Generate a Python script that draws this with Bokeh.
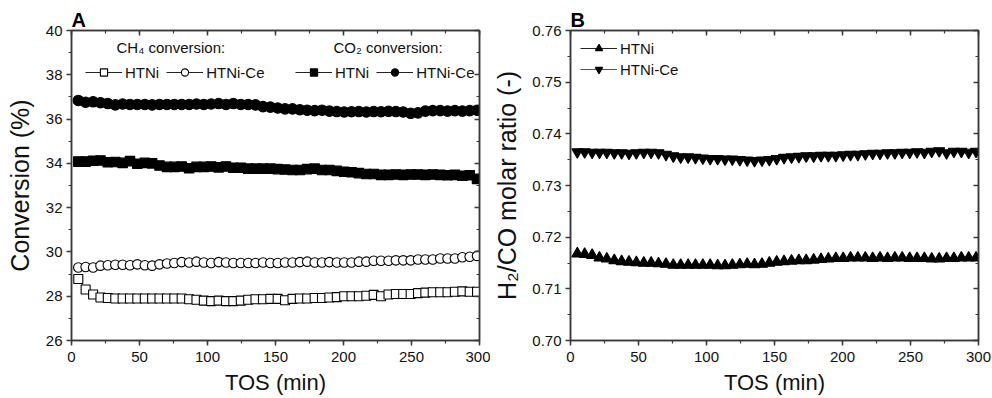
from bokeh.plotting import figure
from bokeh.layouts import row
from bokeh.models import (Legend, LegendItem, Label, LinearAxis, Range1d,
                          SingleIntervalTicker, NumeralTickFormatter, CustomJSTickFormatter)
from bokeh.embed import file_html
from bokeh.resources import INLINE

# ---------------- data ----------------
tos = [5.0, 10.4, 15.9, 21.3, 26.7, 32.2, 37.6, 43.0, 48.4, 53.9, 59.3,
       64.7, 70.2, 75.6, 81.0, 86.5, 91.9, 97.3, 102.7, 108.2, 113.6, 119.0,
       124.5, 129.9, 135.3, 140.8, 146.2, 151.6, 157.0, 162.5, 167.9, 173.3, 178.8,
       184.2, 189.6, 195.1, 200.5, 205.9, 211.3, 216.8, 222.2, 227.6, 233.1, 238.5,
       243.9, 249.4, 254.8, 260.2, 265.6, 271.1, 276.5, 281.9, 287.4, 292.8, 298.2]

co2_htnice = [36.84, 36.76, 36.78, 36.74, 36.70, 36.64, 36.68, 36.66, 36.66, 36.66, 36.64,
              36.66, 36.66, 36.66, 36.66, 36.66, 36.68, 36.66, 36.68, 36.70, 36.66, 36.70,
              36.66, 36.66, 36.64, 36.56, 36.54, 36.50, 36.46, 36.46, 36.42, 36.40, 36.38,
              36.40, 36.36, 36.34, 36.32, 36.33, 36.34, 36.32, 36.34, 36.33, 36.35, 36.34,
              36.32, 36.26, 36.28, 36.36, 36.38, 36.38, 36.36, 36.38, 36.36, 36.38, 36.40]

co2_htni = [34.08, 34.08, 34.12, 34.13, 34.05, 34.06, 34.02, 34.10, 33.98, 34.02, 34.00,
            33.90, 33.84, 33.84, 33.86, 33.78, 33.84, 33.84, 33.86, 33.82, 33.86, 33.80,
            33.80, 33.76, 33.76, 33.76, 33.76, 33.74, 33.72, 33.70, 33.70, 33.74, 33.76,
            33.70, 33.70, 33.66, 33.62, 33.60, 33.56, 33.52, 33.52, 33.48, 33.48, 33.50,
            33.48, 33.50, 33.50, 33.48, 33.50, 33.48, 33.46, 33.48, 33.44, 33.46, 33.30]

ch4_htnice = [29.30, 29.32, 29.30, 29.38, 29.40, 29.42, 29.42, 29.40, 29.44, 29.40, 29.38,
              29.44, 29.48, 29.50, 29.54, 29.52, 29.56, 29.52, 29.50, 29.54, 29.52, 29.50,
              29.50, 29.50, 29.50, 29.52, 29.50, 29.50, 29.52, 29.52, 29.54, 29.56, 29.52,
              29.52, 29.54, 29.52, 29.52, 29.52, 29.56, 29.56, 29.60, 29.60, 29.60, 29.62,
              29.62, 29.62, 29.66, 29.66, 29.66, 29.70, 29.70, 29.70, 29.76, 29.78, 29.82]

ch4_htni = [28.78, 28.30, 28.08, 27.94, 27.92, 27.90, 27.90, 27.90, 27.90, 27.90, 27.90,
            27.90, 27.90, 27.90, 27.90, 27.86, 27.84, 27.80, 27.78, 27.80, 27.78, 27.78,
            27.80, 27.84, 27.86, 27.86, 27.88, 27.88, 27.82, 27.88, 27.90, 27.90, 27.92,
            27.92, 27.94, 27.96, 28.00, 28.00, 28.00, 28.02, 28.06, 28.00, 28.08, 28.10,
            28.10, 28.10, 28.14, 28.16, 28.18, 28.18, 28.18, 28.20, 28.22, 28.20, 28.20]

ratio_htni = [0.7168, 0.7167, 0.7165, 0.7160, 0.7158, 0.7155, 0.7153, 0.7152, 0.7151, 0.7150, 0.7150,
              0.7149, 0.7148, 0.7146, 0.7146, 0.7146, 0.7146, 0.7146, 0.7146, 0.7145, 0.7145, 0.7146,
              0.7147, 0.7148, 0.7147, 0.7148, 0.7150, 0.7152, 0.7153, 0.7154, 0.7155, 0.7155, 0.7156,
              0.7157, 0.7158, 0.7159, 0.7159, 0.7160, 0.7160, 0.7160, 0.7159, 0.7160, 0.7159, 0.7160,
              0.7160, 0.7159, 0.7159, 0.7159, 0.7158, 0.7158, 0.7159, 0.7159, 0.7160, 0.7160, 0.7160]

ratio_htnice = [0.7365, 0.7365, 0.7364, 0.7364, 0.7364, 0.7363, 0.7363, 0.7362, 0.7363, 0.7364, 0.7364,
                0.7363, 0.7360, 0.7357, 0.7355, 0.7355, 0.7354, 0.7353, 0.7352, 0.7352, 0.7351, 0.7351,
                0.7350, 0.7349, 0.7348, 0.7349, 0.7350, 0.7352, 0.7354, 0.7355, 0.7356, 0.7357, 0.7357,
                0.7358, 0.7358, 0.7358, 0.7359, 0.7360, 0.7360, 0.7361, 0.7362, 0.7362, 0.7363, 0.7363,
                0.7364, 0.7364, 0.7365, 0.7364, 0.7366, 0.7367, 0.7363, 0.7366, 0.7366, 0.7364, 0.7366]

FONT = "Liberation Sans"
AX = "#3a3a3a"


def style_axis(ax, outward=True):
    ax.axis_line_color = AX
    ax.axis_line_width = 1.5
    ax.major_tick_line_color = AX
    ax.major_tick_line_width = 1.5
    ax.minor_tick_line_color = AX
    ax.minor_tick_line_width = 1.2
    if outward:
        ax.major_tick_out, ax.major_tick_in = 5, 0
        ax.minor_tick_out, ax.minor_tick_in = 3, 0
    else:
        ax.major_tick_out, ax.major_tick_in = 0, 5
        ax.minor_tick_out, ax.minor_tick_in = 0, 3
    ax.major_label_text_font = FONT
    ax.major_label_text_font_size = "15px"
    ax.major_label_text_color = "#111111"
    ax.major_label_standoff = 4
    ax.axis_label_text_font = FONT
    ax.axis_label_text_font_size = "25px"
    ax.axis_label_text_font_style = "normal"
    ax.axis_label_text_color = "#111111"


def make_fig(width, left, right, yr, yint, letter):
    p = figure(width=width, height=398, x_range=Range1d(0, 300), y_range=Range1d(*yr),
               output_backend="svg", toolbar_location=None,
               min_border_left=left, min_border_right=right,
               min_border_top=30, min_border_bottom=58)
    p.title.text = letter
    p.title.align = "left"
    p.title.text_font = FONT
    p.title.text_font_size = "20px"
    p.title.text_font_style = "bold"
    p.title.text_color = "black"
    p.title.standoff = 0
    p.title.offset = 0
    p.xgrid.visible = False
    p.ygrid.visible = False
    p.outline_line_color = AX
    p.outline_line_width = 1.5
    p.xaxis.ticker = SingleIntervalTicker(interval=50, num_minor_ticks=2)
    p.yaxis.ticker = SingleIntervalTicker(interval=yint, num_minor_ticks=2)
    style_axis(p.xaxis[0])
    style_axis(p.yaxis[0])
    p.xaxis.axis_label = "TOS (min)"
    p.xaxis.axis_label_text_font_size = "22px"
    p.xaxis.major_label_standoff = 6
    p.xaxis.axis_label_standoff = 5
    top = LinearAxis(ticker=SingleIntervalTicker(interval=50, num_minor_ticks=2),
                     formatter=CustomJSTickFormatter(code="return ''"))
    style_axis(top, outward=False)
    top.major_label_standoff = 0
    p.add_layout(top, "above")
    rgt = LinearAxis(ticker=SingleIntervalTicker(interval=yint, num_minor_ticks=2),
                     formatter=CustomJSTickFormatter(code="return ''"))
    style_axis(rgt, outward=False)
    rgt.major_label_standoff = 0
    p.add_layout(rgt, "right")
    return p


def series(p, y, marker, size, fill, line_color="#222222"):
    ln = p.line(tos, y, line_color=line_color, line_width=1)
    sc = p.scatter(tos, y, marker=marker, size=size, fill_color=fill,
                   line_color="black", line_width=1.1)
    return [ln, sc]


def legend(items, loc, orientation):
    lg = Legend(items=items, location=loc, orientation=orientation,
                glyph_width=37, glyph_height=18, label_height=18, label_standoff=3,
                spacing=7 if orientation == "horizontal" else 3,
                padding=0, margin=0, background_fill_alpha=0, border_line_alpha=0,
                label_text_font=FONT, label_text_font_size="15px",
                label_text_color="#111111")
    return lg


# ---------------- panel A ----------------
pa = make_fig(490, 71, 11, (26, 40), 2, "A")
pa.yaxis[0].axis_label = "Conversion (%)"
pa.yaxis[0].axis_label_standoff = 9

r_ch4_ni = series(pa, ch4_htni, "square", 9, "white")
r_ch4_ce = series(pa, ch4_htnice, "circle", 9.5, "white")
r_co2_ni = series(pa, co2_htni, "square", 9.5, "black")
r_co2_ce = series(pa, co2_htnice, "circle", 10.5, "black")

pa.add_layout(legend([LegendItem(label="HTNi", renderers=r_ch4_ni),
                      LegendItem(label="HTNi-Ce", renderers=r_ch4_ce)],
                     (14, 259), "horizontal"))
pa.add_layout(legend([LegendItem(label="HTNi", renderers=r_co2_ni),
                      LegendItem(label="HTNi-Ce", renderers=r_co2_ce)],
                     (224, 259), "horizontal"))

pa.add_layout(Label(x=33.1, y=39.23, text="CH\u2084 conversion:", text_baseline="middle",
                    text_font=FONT, text_font_size="15px", text_color="#111111"))
pa.add_layout(Label(x=192.6, y=39.23, text="CO\u2082 conversion:", text_baseline="middle",
                    text_font=FONT, text_font_size="15px", text_color="#111111"))

# ---------------- panel B ----------------
pb = make_fig(502, 78, 14, (0.70, 0.76), 0.01, "B")
pb.yaxis[0].axis_label = "H\u2082/CO molar ratio (-)"
pb.yaxis[0].axis_label_standoff = 8
pb.yaxis[0].formatter = NumeralTickFormatter(format="0.00")

r_b_ni = series(pb, ratio_htni, "triangle", 11, "black")
r_b_ce = series(pb, ratio_htnice, "inverted_triangle", 11, "black", line_color="#555555")

pb.add_layout(legend([LegendItem(label="HTNi", renderers=r_b_ni),
                      LegendItem(label="HTNi-Ce", renderers=r_b_ce)],
                     (10, 262), "vertical"))

layout = row(pa, pb, spacing=0)
open("out.html", "w").write(file_html(layout, INLINE))
